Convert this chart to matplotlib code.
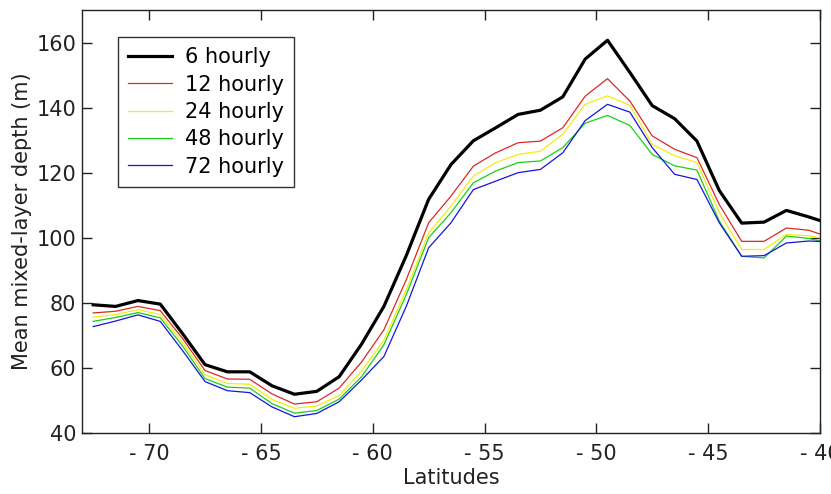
import numpy as np
from matplotlib import pyplot as plt

# latitudes of the zonal means (deg)
lat = [-72.5, -71.5, -70.5, -69.5, -68.5, -67.5, -66.5, -65.5, -64.5, -63.5,
       -62.5, -61.5, -60.5, -59.5, -58.5, -57.5, -56.5, -55.5, -54.5, -53.5,
       -52.5, -51.5, -50.5, -49.5, -48.5, -47.5, -46.5, -45.5, -44.5, -43.5,
       -42.5, -41.5, -40.5, -39.5]

# mean mixed-layer depth (m) for each forcing interval
mld_6h = [79.4, 78.9, 80.7, 79.6, 70.5, 61.0, 58.8, 58.8, 54.5, 51.9,
          52.8, 57.3, 67.3, 78.9, 94.5, 111.8, 122.5, 129.8, 133.8, 137.9,
          139.2, 143.3, 154.9, 160.7, 150.8, 140.6, 136.6, 129.7, 114.5, 104.5,
          104.8, 108.4, 106.4, 104.2]
mld_12h = [76.9, 77.4, 78.9, 77.6, 69.0, 59.2, 56.6, 56.5, 52.0, 48.9,
           49.6, 53.8, 61.8, 71.7, 87.1, 104.6, 112.8, 122.0, 126.1, 129.2,
           129.7, 133.8, 143.5, 148.9, 142.0, 131.3, 127.2, 124.6, 110.2, 98.9,
           98.9, 103.0, 102.3, 100.0]
mld_24h = [75.6, 76.4, 77.9, 76.4, 67.8, 57.9, 55.2, 55.0, 50.3, 47.6,
           48.3, 51.5, 59.0, 68.6, 84.0, 101.5, 109.7, 118.9, 123.1, 125.6,
           126.6, 131.8, 141.0, 143.6, 140.7, 128.7, 125.2, 123.1, 107.7, 96.4,
           96.4, 101.0, 100.6, 99.4]
mld_48h = [74.3, 75.5, 77.0, 75.4, 66.7, 56.7, 54.1, 53.8, 49.0, 46.1,
           46.9, 50.4, 57.3, 67.1, 82.5, 100.0, 107.7, 116.9, 120.5, 123.1,
           123.6, 127.7, 135.2, 137.6, 134.5, 125.6, 122.1, 120.8, 105.1, 94.3,
           93.8, 100.5, 99.8, 98.2]
mld_72h = [72.7, 74.4, 76.3, 74.3, 65.3, 55.8, 53.0, 52.4, 48.0, 45.0,
           46.0, 49.6, 56.3, 63.5, 78.9, 96.9, 104.6, 114.8, 117.4, 120.0,
           121.0, 126.1, 136.0, 141.0, 138.6, 127.7, 119.5, 117.9, 104.6, 94.3,
           94.5, 98.4, 99.0, 98.7]

labels = ['6 hourly', '12 hourly', '24 hourly', '48 hourly', '72 hourly']
xticks = [-70, -65, -60, -55, -50, -45, -40]
yticks = [40, 60, 80, 100, 120, 140, 160]

plt.rcParams['font.family'] = ['DejaVu Sans']
fs = 15

fig = plt.figure(figsize=(8.31, 4.94), dpi=100)
ax = fig.add_axes([0.0987, 0.1235, 0.888, 0.8563])

ax.plot(lat, mld_6h, color='black', lw=2.3, label=labels[0])
ax.plot(lat, mld_12h, color='#dc2828', lw=0.9, label=labels[1])
ax.plot(lat, mld_24h, color='#f2ee10', lw=0.9, label=labels[2])
ax.plot(lat, mld_48h, color='#18d018', lw=0.9, label=labels[3])
ax.plot(lat, mld_72h, color='#1414e0', lw=0.9, label=labels[4])

ax.set_xlim(-73, -40)
ax.set_ylim(40, 170)
ax.set_xticks(xticks)
ax.set_xticklabels(['- %d' % abs(t) for t in xticks])
ax.set_yticks(yticks)
ax.tick_params(direction='in', length=7, width=1, top=True, right=True,
               labelsize=fs, pad=4, colors='#222222')
ax.tick_params(axis='x', pad=8)
for s in ax.spines.values():
    s.set_linewidth(1.0)
    s.set_color('#222222')

ax.set_xlabel('Latitudes', fontsize=fs, labelpad=3, color='#222222')
ax.set_ylabel('Mean mixed-layer depth (m)', fontsize=fs, labelpad=3,
              color='#222222')

leg = ax.legend(loc='upper left', bbox_to_anchor=(0.0488, 0.936), fontsize=fs,
                frameon=True, fancybox=False, edgecolor='black',
                handlelength=2.07, handletextpad=0.63, labelspacing=0.35,
                borderpad=0.5, borderaxespad=0)
leg.get_frame().set_linewidth(1.0)

fig.savefig('out.png', dpi=100)
